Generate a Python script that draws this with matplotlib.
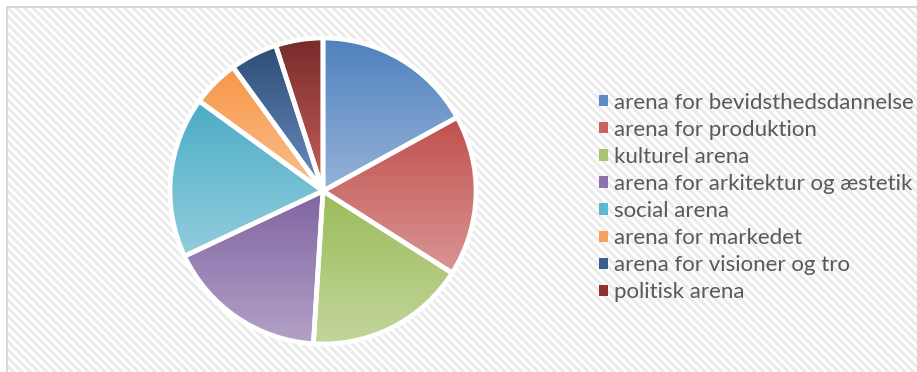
import numpy as np
import matplotlib.pyplot as plt
from matplotlib.patches import Rectangle, Patch
from matplotlib.colors import LinearSegmentedColormap

kategorier = [
    "arena for bevidsthedsdannelse",
    "arena for produktion",
    "kulturel arena",
    "arena for arkitektur og æstetik",
    "social arena",
    "arena for markedet",
    "arena for visioner og tro",
    "politisk arena",
]
andele = [17, 17, 17, 17, 17, 5, 5, 5]

farve_top = ["#4f81bd", "#c0504d", "#9bbb59", "#8064a2", "#4bacc6", "#f79646", "#2c4d75", "#772c2a"]
farve_bund = ["#95b3d7", "#d99694", "#c3d69b", "#b3a2c7", "#93cddd", "#fac090", "#6a8fc4", "#c9605d"]
farve_legende = ["#5f8ac4", "#c96260", "#a9c471", "#8c73ab", "#5fb6ce", "#f8a15d", "#3a5f8f", "#8c3431"]

plt.rcParams["font.family"] = ["Lato", "DejaVu Sans"]
plt.rcParams["hatch.linewidth"] = 2.2

W, H = 917, 372
fig = plt.figure(figsize=(W / 100, H / 100), dpi=100)

# skraveret baggrund + ramme
fig.patches.append(Rectangle((7 / W, -0.1), 1.2, (H - 7) / H + 0.1, transform=fig.transFigure,
                             facecolor="white", edgecolor="#ebebeb", linewidth=0,
                             hatch="\\\\\\\\", zorder=-2))
fig.patches.append(Rectangle((7 / W, -0.1), 1.2, (H - 7) / H + 0.1, transform=fig.transFigure,
                             facecolor="none", edgecolor="#d6d6d6", linewidth=1.3, zorder=-1))

# lagkage
cx, cy, r = 323, 191, 153
lim = 1.03
half = r * lim
ax = fig.add_axes([(cx - half) / W, (H - cy - half) / H, 2 * half / W, 2 * half / H])
ax.set_facecolor("none")

wedges, _ = ax.pie(andele, startangle=90, counterclock=False, radius=1,
                   wedgeprops=dict(edgecolor="white", linewidth=3.4, facecolor="none", zorder=3))

grad = np.linspace(0, 1, 256).reshape(-1, 1)
for w, ct, cb in zip(wedges, farve_top, farve_bund):
    x0, y0, x1, y1 = w.get_path().get_extents().extents
    cmap = LinearSegmentedColormap.from_list("g", [ct, cb])
    im = ax.imshow(grad, cmap=cmap, extent=(x0, x1, y0, y1), origin="upper",
                   aspect="auto", zorder=2, interpolation="bilinear")
    im.set_clip_path(w)

ax.set_xlim(-lim, lim)
ax.set_ylim(-lim, lim)
ax.set_aspect("equal")
ax.axis("off")

# legende
handles = [Patch(facecolor=c, edgecolor="none") for c in farve_legende]
fig.legend(handles, kategorier, loc="center left", bbox_to_anchor=(579 / W, 1 - 197.5 / H),
           frameon=False, fontsize=16.05, handlelength=0.41, handleheight=0.41,
           handletextpad=0.27, labelspacing=0.32, borderpad=0.4, labelcolor="#595959")

fig.savefig("out.png", dpi=100)
